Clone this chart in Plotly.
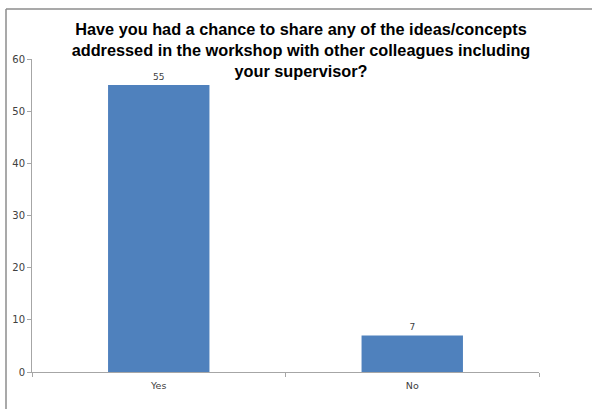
import plotly.graph_objects as go

categories = ["Yes", "No"]
values = [55, 7]
title_text = ("Have you had a chance to share any of the ideas/concepts<br>"
              "addressed in the workshop with other colleagues including<br>"
              "your supervisor?")

W, H = 592, 409
L, R, T, B = 32, 53, 59, 37
pw, ph = W - L - R, H - T - B

def px_x(p):
    return (p - L) / pw

def px_y(p):
    return (H - B - p) / ph

fig = go.Figure()
fig.add_trace(go.Bar(
    x=categories, y=values, width=0.4,
    marker=dict(color="#4f81bd", line=dict(width=0)),
    text=[str(v) for v in values], textposition="outside",
    textfont=dict(size=9, color="#404040", family="DejaVu Sans"),
    cliponaxis=False,
))

axis_col = "#a6a6a6"
tick_font = dict(size=10, color="#404040", family="DejaVu Sans")
fig.update_layout(
    width=W, height=H,
    margin=dict(l=L, r=R, t=T, b=B),
    paper_bgcolor="white", plot_bgcolor="white",
    showlegend=False,
    title=dict(text=title_text, x=301 / W, xanchor="center", xref="container",
               y=(H - 35) / H, yanchor="top",
               font=dict(family="Liberation Sans", size=16.3, color="black", weight="bold")),
    xaxis=dict(showline=True, linecolor=axis_col, linewidth=1, ticks="outside",
               tickson="boundaries", ticklen=4, tickcolor=axis_col, ticklabelstandoff=5,
               tickfont=dict(size=9.5, color="#404040", family="DejaVu Sans"),
               showgrid=False, zeroline=False),
    yaxis=dict(range=[0, 60], dtick=10, showline=True, linecolor=axis_col, linewidth=1,
               ticks="outside", ticklen=4, tickcolor=axis_col,
               tickfont=tick_font, showgrid=False, zeroline=False),
    shapes=[
        dict(type="line", xref="paper", yref="paper", x0=px_x(6), x1=px_x(700),
             y0=px_y(9), y1=px_y(9), line=dict(color="#8c8c8c", width=1.5)),
        dict(type="line", xref="paper", yref="paper", x0=px_x(6), x1=px_x(6),
             y0=px_y(9), y1=px_y(500), line=dict(color="#8c8c8c", width=1.5)),
    ],
)

fig.write_html("out.html", config={"displayModeBar": False},
               post_script="document.body.style.margin='0';")
